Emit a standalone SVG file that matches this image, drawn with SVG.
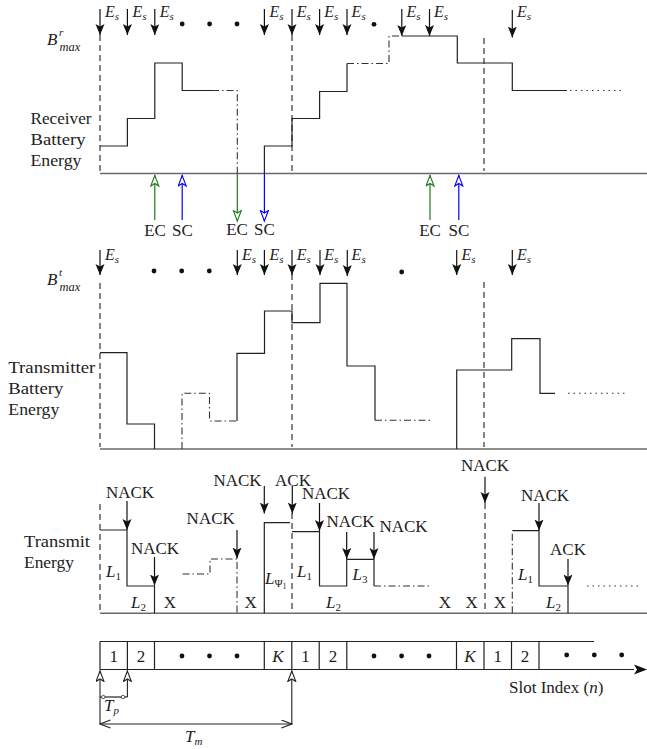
<svg xmlns="http://www.w3.org/2000/svg" width="647" height="749" viewBox="0 0 647 749" font-family="'Liberation Serif', 'Times New Roman', serif">
<style>
.ln{stroke:#222;stroke-width:1.2;fill:none}
.ax{stroke:#6a6a6a;stroke-width:1.6;fill:none}
.dash{stroke:#222;stroke-width:1.1;stroke-dasharray:6 4;fill:none}
.dd{stroke:#333;stroke-width:1.1;stroke-dasharray:7 3 1.5 3;fill:none}
.dot{stroke:#333;stroke-width:1.1;stroke-dasharray:1.5 4;fill:none}
.arr{stroke:#111;stroke-width:1.2;fill:none;marker-end:url(#ah)}
.ag{stroke:#1d7a1d;stroke-width:1.2;fill:none;marker-end:url(#og)}
.ab{stroke:#0000ff;stroke-width:1.2;fill:none;marker-end:url(#ob)}
.ak{stroke:#222;stroke-width:1.1;fill:none;marker-end:url(#ok)}
.dt{fill:#111}
text{font-family:"Liberation Serif","Times New Roman",serif;font-size:17px;fill:#222}
.m{font-style:italic}
.es{font-style:italic;font-size:16px}
.sb{font-size:11px}
</style>
<defs>
<marker id="ah" markerUnits="userSpaceOnUse" markerWidth="12" markerHeight="10" refX="11" refY="4.5" orient="auto"><path d="M0,0 L11,4.5 L0,9 L2.5,4.5 Z" fill="#111"/></marker>
<marker id="og" markerUnits="userSpaceOnUse" markerWidth="13" markerHeight="10" refX="11.5" refY="4.5" orient="auto"><path d="M0.5,0.5 L11,4.5 L0.5,8.5 L3,4.5 Z" fill="#fff" stroke="#1d7a1d" stroke-width="1.1"/></marker>
<marker id="ob" markerUnits="userSpaceOnUse" markerWidth="13" markerHeight="10" refX="11.5" refY="4.5" orient="auto"><path d="M0.5,0.5 L11,4.5 L0.5,8.5 L3,4.5 Z" fill="#fff" stroke="#0000ff" stroke-width="1.1"/></marker>
<marker id="ok" markerUnits="userSpaceOnUse" markerWidth="13" markerHeight="10" refX="11.5" refY="4.5" orient="auto"><path d="M0.5,0.5 L11,4.5 L0.5,8.5 L3,4.5 Z" fill="#fff" stroke="#222" stroke-width="1.1"/></marker>
<marker id="ch" markerUnits="userSpaceOnUse" markerWidth="12" markerHeight="10" refX="10.5" refY="4.5" orient="auto-start-reverse"><path d="M0,0.5 L10.5,4.5 L0,8.5" fill="none" stroke="#222" stroke-width="1.1"/></marker>
</defs>
<rect width="647" height="749" fill="#fff"/>

<!-- Receiver battery panel -->
<g id="receiver">
<text x="30.5" y="124" textLength="61" lengthAdjust="spacingAndGlyphs">Receiver</text>
<text x="30.5" y="145" textLength="55" lengthAdjust="spacingAndGlyphs">Battery</text>
<text x="30.5" y="166" textLength="51" lengthAdjust="spacingAndGlyphs">Energy</text>
<text class="m" x="47" y="45">B<tspan x="59" y="35.5" font-size="11">r</tspan><tspan x="59.5" y="50.5" font-size="12.5">max</tspan></text>
<path class="ax" d="M100,173.5 H647"/>
<path class="dash" d="M100,35 V171 M292,35 V171 M484,38 V171"/>
<path class="ln" d="M100,146 H127.4 V118.5 H154.8 V63 H182.2 V90.5 H212"/>
<path class="dd" d="M212,90.5 H237.3 V173.5"/>
<path class="ln" d="M264.4,173.5 V146 H292 V118.5 H319.6 V91.5 H347 V63.5"/>
<path class="dd" d="M347,63.5 H389 V36 H402"/>
<path class="ln" d="M402,36 H457.3 V63 H512.3 V90.5 H567"/>
<path class="dot" d="M570,90.5 H622"/>
<circle class="dt" cx="182.2" cy="24" r="2.4"/><circle class="dt" cx="209.6" cy="24" r="2.4"/><circle class="dt" cx="237" cy="24" r="2.4"/><circle class="dt" cx="374" cy="24.3" r="2.4"/>
<text class="es" x="105" y="17">E<tspan class="sb" dy="3">s</tspan></text>
<text class="es" x="132.4" y="17">E<tspan class="sb" dy="3">s</tspan></text>
<text class="es" x="159.8" y="17">E<tspan class="sb" dy="3">s</tspan></text>
<text class="es" x="269.4" y="17">E<tspan class="sb" dy="3">s</tspan></text>
<text class="es" x="296.8" y="17">E<tspan class="sb" dy="3">s</tspan></text>
<text class="es" x="324.2" y="17">E<tspan class="sb" dy="3">s</tspan></text>
<text class="es" x="351.6" y="17">E<tspan class="sb" dy="3">s</tspan></text>
<text class="es" x="406.5" y="17">E<tspan class="sb" dy="3">s</tspan></text>
<text class="es" x="434" y="17">E<tspan class="sb" dy="3">s</tspan></text>
<text class="es" x="517" y="17">E<tspan class="sb" dy="3">s</tspan></text>
<text x="155" y="236" text-anchor="middle">EC</text>
<text x="182.5" y="236" text-anchor="middle">SC</text>
<text x="237" y="234.5" text-anchor="middle">EC</text>
<text x="264.5" y="234.5" text-anchor="middle">SC</text>
<text x="430" y="236" text-anchor="middle">EC</text>
<text x="459" y="236" text-anchor="middle">SC</text>
</g>

<!-- Transmitter battery panel -->
<g id="transmitter">
<text x="8.3" y="372.5" textLength="87" lengthAdjust="spacingAndGlyphs">Transmitter</text>
<text x="8.3" y="393.5" textLength="55" lengthAdjust="spacingAndGlyphs">Battery</text>
<text x="8.3" y="414.5" textLength="51" lengthAdjust="spacingAndGlyphs">Energy</text>
<text class="m" x="47" y="285">B<tspan x="59" y="275.5" font-size="11">t</tspan><tspan x="59.5" y="290.5" font-size="12.5">max</tspan></text>
<path class="ax" d="M100,449 H647"/>
<path class="dash" d="M100,283 V447 M292,274 V447 M484,282 V447"/>
<path class="ln" d="M100,352.7 H127 V424 H154.5 V449"/>
<path class="dd" d="M182,449 V393.3 H209.5 V421 H237"/>
<path class="ln" d="M237,421 V353.3 H264.5 V311 H292 V322.7 H320 V283.3 H347 V366 H375 V420.3"/>
<path class="dd" d="M375,420.3 H432"/>
<path class="ln" d="M456.7,449 V370 H511.7 V338.7 H540 V393.3 H555"/>
<path class="dot" d="M568,393.3 H626"/>
<circle class="dt" cx="154" cy="271" r="2.4"/><circle class="dt" cx="181.7" cy="271" r="2.4"/><circle class="dt" cx="209.3" cy="271" r="2.4"/><circle class="dt" cx="401.7" cy="272" r="2.4"/>
<text class="es" x="105" y="260">E<tspan class="sb" dy="3">s</tspan></text>
<text class="es" x="242" y="260">E<tspan class="sb" dy="3">s</tspan></text>
<text class="es" x="269.4" y="260">E<tspan class="sb" dy="3">s</tspan></text>
<text class="es" x="296.8" y="260">E<tspan class="sb" dy="3">s</tspan></text>
<text class="es" x="324.2" y="260">E<tspan class="sb" dy="3">s</tspan></text>
<text class="es" x="351.6" y="260">E<tspan class="sb" dy="3">s</tspan></text>
<text class="es" x="461.5" y="260">E<tspan class="sb" dy="3">s</tspan></text>
<text class="es" x="517" y="260">E<tspan class="sb" dy="3">s</tspan></text>
</g>

<!-- Transmit energy panel -->
<g id="transmit">
<text x="24" y="547" textLength="66" lengthAdjust="spacingAndGlyphs">Transmit</text>
<text x="24" y="568" textLength="50" lengthAdjust="spacingAndGlyphs">Energy</text>
<path class="ax" d="M100,613.3 H647"/>
<path class="dash" d="M100,504 V611 M292,513 V611 M485,503 V611"/>
<path class="ln" d="M100,530 H127 V586 H154.5 V613.3"/>
<path class="dd" d="M182.5,574 H210 V559 H237 V613.3"/>
<path class="ln" d="M264.3,613.3 V522.7 H290"/>
<path class="ln" d="M292,531.7 H319.5 V586 H346.7 V559.3 H374 V586"/>
<path class="dd" d="M374,586 H430"/>
<path class="dd" d="M512.3,613.3 V530.7"/>
<path class="ln" d="M512.3,530.7 H539 V586 H568 V613.3"/>
<path class="dot" d="M587,586 H638"/>
<text x="130" y="497.5" text-anchor="middle">NACK</text>
<text x="155" y="553.5" text-anchor="middle">NACK</text>
<text x="210.7" y="524" text-anchor="middle">NACK</text>
<text x="237.5" y="485.5" text-anchor="middle">NACK</text>
<text x="293" y="485.5" text-anchor="middle">ACK</text>
<text x="326" y="499" text-anchor="middle">NACK</text>
<text x="350.5" y="527" text-anchor="middle">NACK</text>
<text x="403.5" y="532" text-anchor="middle">NACK</text>
<text x="485" y="470.5" text-anchor="middle">NACK</text>
<text x="545" y="500.5" text-anchor="middle">NACK</text>
<text x="568" y="555" text-anchor="middle">ACK</text>
<text class="m" x="106" y="577">L<tspan class="sb" dy="3" font-style="normal">1</tspan></text>
<text class="m" x="131" y="607.5">L<tspan class="sb" dy="3" font-style="normal">2</tspan></text>
<text class="m" x="265" y="584">L<tspan class="sb" dy="3" font-style="normal">Ψ</tspan><tspan font-size="8" dy="2" font-style="normal">1</tspan></text>
<text class="m" x="297" y="577">L<tspan class="sb" dy="3" font-style="normal">1</tspan></text>
<text class="m" x="326" y="607.5">L<tspan class="sb" dy="3" font-style="normal">2</tspan></text>
<text class="m" x="352.5" y="579.5">L<tspan class="sb" dy="3" font-style="normal">3</tspan></text>
<text class="m" x="518" y="579.5">L<tspan class="sb" dy="3" font-style="normal">1</tspan></text>
<text class="m" x="546" y="607.5">L<tspan class="sb" dy="3" font-style="normal">2</tspan></text>
<text x="170" y="608" text-anchor="middle">X</text>
<text x="250.7" y="608" text-anchor="middle">X</text>
<text x="445" y="608" text-anchor="middle">X</text>
<text x="471.7" y="608" text-anchor="middle">X</text>
<text x="500" y="608" text-anchor="middle">X</text>
</g>

<!-- Slot timeline -->
<g id="slots">
<path class="ln" d="M100,641.5 H594"/>
<path class="ln" d="M100,641.5 V669.5 M127.4,641.5 V669.5 M154.5,641.5 V669.5 M264.3,641.5 V669.5 M291.8,641.5 V669.5 M319.2,641.5 V669.5 M346.8,641.5 V669.5 M456.5,641.5 V669.5 M484,641.5 V669.5 M511.5,641.5 V669.5 M539,641.5 V669.5"/>
<path class="ln" d="M100,669.5 H634" stroke-width="1.3"/>
<path d="M647,669.5 L634,664.5 L637,669.5 L634,674.5 Z" fill="#111"/>
<text x="113.7" y="662" text-anchor="middle">1</text>
<text x="141" y="662" text-anchor="middle">2</text>
<text class="m" x="278" y="662" text-anchor="middle">K</text>
<text x="305.5" y="662" text-anchor="middle">1</text>
<text x="333" y="662" text-anchor="middle">2</text>
<text class="m" x="470" y="662" text-anchor="middle">K</text>
<text x="497.7" y="662" text-anchor="middle">1</text>
<text x="525" y="662" text-anchor="middle">2</text>
<circle class="dt" cx="182" cy="656" r="2.4"/><circle class="dt" cx="209.5" cy="656" r="2.4"/><circle class="dt" cx="237" cy="656" r="2.4"/>
<circle class="dt" cx="374" cy="656" r="2.4"/><circle class="dt" cx="401.6" cy="656" r="2.4"/><circle class="dt" cx="429" cy="656" r="2.4"/>
<circle class="dt" cx="566.7" cy="655" r="2.4"/><circle class="dt" cx="594.3" cy="655" r="2.4"/><circle class="dt" cx="621.7" cy="655" r="2.4"/>
<text x="509" y="693">Slot Index (<tspan class="m">n</tspan>)</text>
<path class="ln" d="M100,697 H127.4" stroke-width="1.6"/>
<circle cx="103.3" cy="697" r="1.7" fill="#fff" stroke="#444" stroke-width="0.9"/>
<circle cx="123" cy="697" r="1.7" fill="#fff" stroke="#444" stroke-width="0.9"/>
<path class="ln" d="M100,724 H291.8" marker-start="url(#ch)" marker-end="url(#ch)"/>
<text class="m" x="104" y="711">T<tspan class="sb" dy="3">p</tspan></text>
<text class="m" x="185" y="741.5">T<tspan class="sb" dy="3">m</tspan></text>
</g>

<!-- Connectors -->
<g id="connectors">
<path class="arr" d="M100,9 V35"/>
<path class="arr" d="M127.4,9 V35"/>
<path class="arr" d="M154.8,9 V35"/>
<path class="arr" d="M264.4,9 V35"/>
<path class="arr" d="M292,9 V35"/>
<path class="arr" d="M319.6,9 V35"/>
<path class="arr" d="M347,9 V35"/>
<path class="arr" d="M401.8,9 V36"/>
<path class="arr" d="M429.5,9 V36"/>
<path class="arr" d="M512.3,10 V37.5"/>
<path class="ag" d="M154.8,220 V175"/>
<path class="ab" d="M182.2,220 V175"/>
<path class="ag" d="M237.3,173.5 V221.5"/>
<path class="ab" d="M264.4,173.5 V221.5"/>
<path class="ag" d="M430,220 V175"/>
<path class="ab" d="M458.8,220 V175"/>
<path class="arr" d="M100,250 V275"/>
<path class="arr" d="M237.3,250 V275"/>
<path class="arr" d="M264.4,250 V275"/>
<path class="arr" d="M292,250 V275"/>
<path class="arr" d="M320,250 V275"/>
<path class="arr" d="M347.3,250 V276"/>
<path class="arr" d="M456.7,250 V275"/>
<path class="arr" d="M512.3,250 V275"/>
<path class="arr" d="M127,501 V530"/>
<path class="arr" d="M154.5,557 V585.5"/>
<path class="arr" d="M237,530 V558.5"/>
<path class="arr" d="M264.3,486 V513.5"/>
<path class="arr" d="M292.3,486 V513.5"/>
<path class="arr" d="M319.5,503 V531"/>
<path class="arr" d="M346.7,532 V559"/>
<path class="arr" d="M374,532 V559"/>
<path class="arr" d="M485,476.7 V503"/>
<path class="arr" d="M539,503 V530.5"/>
<path class="arr" d="M568,559 V585.5"/>
<path class="ak" d="M100,724 V670.5"/>
<path class="ak" d="M127.4,697 V670.5"/>
<path class="ak" d="M291.8,724 V670.5"/>
</g>
</svg>
